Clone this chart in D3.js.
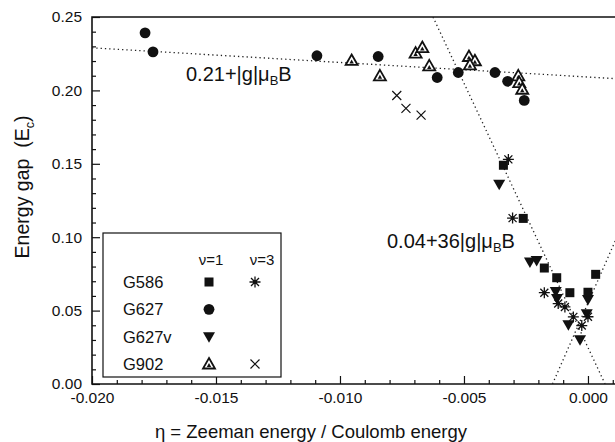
<!DOCTYPE html>
<html>
<head>
<meta charset="utf-8">
<script src="https://cdn.jsdelivr.net/npm/d3@7"></script>
<style>
  body { margin: 0; background: #fff; }
  svg { display: block; }
  text { font-family: "Liberation Sans", Arial, sans-serif; fill: #111; }
</style>
</head>
<body>
<div id="chart"></div>
<script>
// data: [eta, energy gap]
const g586_nu1 = [[-0.00341, 0.149], [-0.00261, 0.1128], [-0.00176, 0.079], [-0.00126, 0.0724],
                  [-0.00073, 0.0622], [0.00031, 0.0747], [0.0000, 0.0625]];
const g586_nu3 = [[-0.00321, 0.153], [-0.00304, 0.113], [-0.00176, 0.0622], [-0.0012, 0.0548],
                  [-0.00093, 0.0525], [-0.00059, 0.0457], [0.0000, 0.0458], [-0.00025, 0.0398]];
const g627_nu1 = [[-0.01786, 0.2392], [-0.01754, 0.2262], [-0.01093, 0.2236], [-0.00846, 0.2231],
                  [-0.00608, 0.2088], [-0.00523, 0.2122], [-0.00375, 0.2122], [-0.00324, 0.2062],
                  [-0.00257, 0.1932]];
const g627v_nu1 = [[-0.00358, 0.1361], [-0.00234, 0.0831], [-0.00207, 0.0842], [-0.0013, 0.063],
                   [-0.00125, 0.0582], [0.0000, 0.0576], [-0.00005, 0.0478], [-0.00079, 0.0404],
                   [-0.00032, 0.0302]];
const g902_nu1 = [[-0.00953, 0.2204], [-0.00839, 0.2099], [-0.00695, 0.2254], [-0.00668, 0.2292],
                  [-0.0064, 0.2167], [-0.0048, 0.2231], [-0.00456, 0.2202], [-0.00476, 0.2174],
                  [-0.00281, 0.2099], [-0.00277, 0.2053], [-0.00265, 0.2008]];
const g902_nu3 = [[-0.00771, 0.1965], [-0.00734, 0.1878], [-0.00673, 0.1832]];

// dotted guide lines (end points)
const lineFlat  = [[-0.020, 0.229], [0.0011, 0.208]];
const lineSteep = [[-0.00625, 0.25], [0.00069, 0.0]];
const lineRise  = [[-0.00143, 0.0], [0.0011, 0.0975]];

const xMajor = [-0.020, -0.015, -0.010, -0.005, 0.000];
const yMajor = [0.00, 0.05, 0.10, 0.15, 0.20, 0.25];

const legendRows = ["G586", "G627", "G627v", "G902"];

// dimensions
var margin = {top: 17, right: 0, bottom: 58, left: 92},
    width = 615 - margin.left - margin.right,
    height = 442 - margin.top - margin.bottom;

var svg = d3.select("#chart")
  .append("svg")
    .attr("width", 615)
    .attr("height", 442)
  .append("g")
    .attr("transform", `translate(${margin.left},${margin.top})`);

const x = d3.scaleLinear().domain([-0.020, 0.00109]).range([0, width]);
const y = d3.scaleLinear().domain([0, 0.25]).range([height, 0]);

// minor ticks
const xMinor = d3.range(-20, 2).map(d => d / 1000).filter(d => Math.round(d * 1000) % 5 !== 0);
const yMinor = d3.range(0, 26).map(d => d / 100).filter(d => Math.round(d * 100) % 5 !== 0);

svg.append("g")
  .attr("transform", `translate(0,${height})`)
  .call(d3.axisBottom(x).tickValues(xMinor).tickSizeInner(-4).tickSizeOuter(0).tickFormat(""))
  .call(g => g.select(".domain").remove());
svg.append("g")
  .call(d3.axisLeft(y).tickValues(yMinor).tickSizeInner(-4).tickSizeOuter(0).tickFormat(""))
  .call(g => g.select(".domain").remove());

const xAxis = svg.append("g")
  .attr("transform", `translate(0,${height})`)
  .call(d3.axisBottom(x).tickValues(xMajor).tickSizeInner(-8).tickSizeOuter(0)
    .tickPadding(8).tickFormat(d => d.toFixed(3)));
xAxis.select(".domain").remove();
xAxis.selectAll("text").style("font-size", "15.5px").attr("fill", "#111");

const yAxis = svg.append("g")
  .call(d3.axisLeft(y).tickValues(yMajor).tickSizeInner(-8).tickSizeOuter(0)
    .tickPadding(10).tickFormat(d => d.toFixed(2)));
yAxis.select(".domain").remove();
yAxis.selectAll("text").style("font-size", "15.5px").attr("fill", "#111");

svg.selectAll(".tick line").attr("stroke", "#111").attr("stroke-width", 1.2);

// frame: left, bottom, top (right side is cut off in the original)
svg.append("path")
  .attr("d", `M${width},0H0V${height}H${width}`)
  .attr("fill", "none")
  .attr("stroke", "#111")
  .attr("stroke-width", 1.6);

// clip
svg.append("defs").append("clipPath").attr("id", "clip")
  .append("rect").attr("width", width).attr("height", height);

const plot = svg.append("g").attr("clip-path", "url(#clip)");

const line = d3.line().x(d => x(d[0])).y(d => y(d[1]));
[lineFlat, lineSteep, lineRise].forEach(function(l) {
  plot.append("path")
    .attr("d", line(l))
    .attr("fill", "none")
    .attr("stroke", "#222")
    .attr("stroke-width", 1.3)
    .attr("stroke-dasharray", "1.3,3");
});

// marker shapes
function square(g) {
  g.append("rect").attr("x", -4.5).attr("y", -4.5).attr("width", 9).attr("height", 9).attr("fill", "#111");
}
function circle(g) {
  g.append("circle").attr("r", 5.4).attr("fill", "#111");
}
function triDown(g) {
  g.append("path").attr("d", "M-6,-4.5L6,-4.5L0,6Z").attr("fill", "#111");
}
function triOpen(g) {
  g.append("path").attr("d", "M0,-6L6,4.5L-6,4.5Z").attr("fill", "#fff")
    .attr("stroke", "#111").attr("stroke-width", 1.8).attr("stroke-linejoin", "miter");
  g.append("path").attr("d", "M0,-1L2.2,3L-2.2,3Z").attr("fill", "#111");
}
function star(g) {
  g.append("path").attr("d", "M-5.5,0H5.5M0,-5.5V5.5M-4,-4L4,4M-4,4L4,-4")
    .attr("stroke", "#111").attr("stroke-width", 1.3);
  g.append("circle").attr("r", 2).attr("fill", "#111");
}
function cross(g) {
  g.append("path").attr("d", "M-4.5,-4.5L4.5,4.5M-4.5,4.5L4.5,-4.5")
    .attr("stroke", "#111").attr("stroke-width", 1.2);
}

function drawSeries(data, shape) {
  plot.append("g").selectAll("g")
    .data(data)
    .join("g")
      .attr("transform", d => `translate(${x(d[0])},${y(d[1])})`)
      .each(function() { shape(d3.select(this)); });
}

drawSeries(g627_nu1, circle);
drawSeries(g902_nu1, triOpen);
drawSeries(g902_nu3, cross);
drawSeries(g627v_nu1, triDown);
drawSeries(g586_nu1, square);
drawSeries(g586_nu3, star);

// annotations
function formula(xp, yp, head) {
  const t = svg.append("text").attr("x", xp).attr("y", yp).style("font-size", "20px");
  t.append("tspan").text(head + "|g|\u03bc");
  t.append("tspan").attr("dy", 4).style("font-size", "13px").text("B");
  t.append("tspan").attr("dy", -4).text("B");
}
formula(94, 64, "0.21+");
formula(295, 231, "0.04+36");

// legend
const lg = svg.append("g").attr("transform", "translate(11,216)");
lg.append("rect")
  .attr("width", 178).attr("height", 144)
  .attr("fill", "#fff").attr("stroke", "#111").attr("stroke-width", 1.2);
lg.append("text").attr("x", 108).attr("y", 32).attr("text-anchor", "middle")
  .style("font-size", "15px").text("\u03bd=1");
lg.append("text").attr("x", 159).attr("y", 32).attr("text-anchor", "middle")
  .style("font-size", "15px").text("\u03bd=3");

const rowY = d3.scalePoint().domain(legendRows).range([49, 131]);
lg.selectAll("text.lab")
  .data(legendRows)
  .join("text")
    .attr("class", "lab")
    .attr("x", 20)
    .attr("y", d => rowY(d) + 6)
    .style("font-size", "16.5px")
    .text(d => d);

const nu1Shapes = [square, circle, triDown, triOpen];
const nu3Shapes = [star, null, null, cross];
legendRows.forEach(function(r, i) {
  lg.append("g").attr("transform", `translate(106,${rowY(r)})`).call(nu1Shapes[i]);
  if (nu3Shapes[i]) lg.append("g").attr("transform", `translate(152,${rowY(r)})`).call(nu3Shapes[i]);
});

// axis titles
const yt = svg.append("text")
  .attr("transform", `translate(-63,${170}) rotate(-90)`)
  .attr("text-anchor", "middle")
  .style("font-size", "19.5px");
yt.append("tspan").text("Energy gap\u00a0\u00a0(E");
yt.append("tspan").attr("dy", 5).style("font-size", "12.5px").text("c");
yt.append("tspan").attr("dy", -5).text(")");

svg.append("text")
  .attr("x", 219)
  .attr("y", height + 54)
  .attr("text-anchor", "middle")
  .style("font-size", "18.5px")
  .text("\u03b7 = Zeeman energy / Coulomb energy");
</script>
</body>
</html>
